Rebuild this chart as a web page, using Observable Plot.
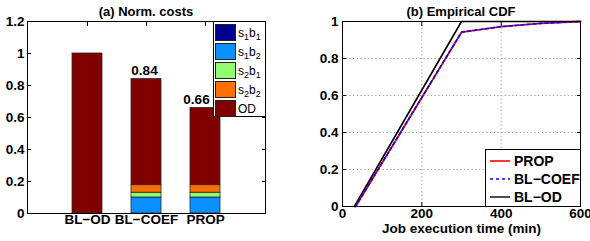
<!DOCTYPE html>
<html><head><meta charset="utf-8">
<script src="https://cdn.jsdelivr.net/npm/d3@7"></script>
<script src="https://cdn.jsdelivr.net/npm/@observablehq/plot@0.6"></script>
<style>
body{margin:0;background:#fff;font-family:"Liberation Sans",Arial,sans-serif;}
#wrap{position:relative;width:590px;height:241px;overflow:hidden;}
#wrap svg.chart{position:absolute;top:0;}
#wrap svg.chart text{font-family:"Liberation Sans",Arial,sans-serif;font-size:13.5px;font-weight:bold;fill:#000;}
.title{position:absolute;top:4px;font-size:13px;font-weight:bold;text-align:center;white-space:nowrap;line-height:16px;}
.leg{position:absolute;background:#fff;border:1px solid #000;box-sizing:border-box;}
.legA .row{display:flex;align-items:center;height:19px;font-size:12px;}
.legA .sw{width:21px;height:17px;box-sizing:border-box;border:1px solid #222;margin:0 2px 0 1px;}
.legA sub{font-size:9px;vertical-align:-3px;line-height:0}
.legB .row{display:flex;align-items:center;height:18px;font-size:14px;font-weight:bold;}
</style></head>
<body><div id="wrap"></div>
<script>
// ---- Panel (a) data ----
const categories = ["BL−OD", "BL−COEF", "PROP"];
const components = ["s1b1", "s1b2", "s2b1", "s2b2", "OD"];
const componentLabels = ["s<sub>1</sub>b<sub>1</sub>", "s<sub>1</sub>b<sub>2</sub>", "s<sub>2</sub>b<sub>1</sub>", "s<sub>2</sub>b<sub>2</sub>", "OD"];
const componentColors = ["#00008f", "#0a90ff", "#90ff70", "#ff7000", "#800000"];
const s1b1 = [0, 0, 0];
const s1b2 = [0, 0.10, 0.10];
const s2b1 = [0, 0.03, 0.03];
const s2b2 = [0, 0.047, 0.047];
const od = [1.0, 0.663, 0.483];
const totalLabels = ["", "0.84", "0.66"];
const yTicksA = [0, 0.2, 0.4, 0.6, 0.8, 1, 1.2];
const titleA = "(a) Norm. costs";

// ---- Panel (b) data ----
const seriesNames = ["PROP", "BL−COEF", "BL−OD"];
const propX = [33, 300, 400, 500, 600];
const propY = [0, 0.942, 0.972, 0.99, 1.0];
const coefX = [33, 300, 400, 500, 600];
const coefY = [0, 0.942, 0.972, 0.99, 1.0];
const odX = [30, 300, 600];
const odY = [0, 1, 1];
const xTicksB = [0, 200, 400, 600];
const yTicksB = [0, 0.2, 0.4, 0.6, 0.8, 1];
const titleB = "(b) Empirical CDF";
const xLabelB = "Job execution time (min)";

const compValues = [s1b1, s1b2, s2b1, s2b2, od];
const stackData = [];
categories.forEach((c, i) => components.forEach((k, j) => stackData.push({cat: c, comp: k, value: compValues[j][i]})));
const totals = categories.map((c, i) => ({cat: c, total: compValues.reduce((s, a) => s + a[i], 0), label: totalLabels[i]}));

const fmt = d => String(d);
const wrap = document.getElementById("wrap");

const chartA = Plot.plot({
  width: 280, height: 241,
  marginLeft: 27, marginRight: 15, marginTop: 21, marginBottom: 28,
  className: "pa",
  x: {type: "band", domain: categories, paddingInner: 0.5, paddingOuter: 0.75, label: null},
  y: {domain: [0, 1.2], label: null},
  color: {domain: components, range: componentColors},
  marks: [
    Plot.barY(stackData, {x: "cat", y: "value", fill: "comp", stroke: "#2a2a2a", strokeWidth: 0.8}),
    Plot.frame({stroke: "#000", strokeWidth: 1}),
    Plot.axisY({ticks: yTicksA, tickSize: 0, tickPadding: 3, tickFormat: fmt, label: null}),
    Plot.axisY({ticks: yTicksA, tickSize: -4, tickFormat: () => "", label: null}),
    Plot.axisY({anchor: "right", ticks: yTicksA, tickSize: -4, tickFormat: () => "", label: null}),
    Plot.axisX({tickSize: 0, tickPadding: 1, label: null}),
    Plot.axisX({anchor: "top", tickSize: -4, tickFormat: () => "", label: null}),
    Plot.text(totals.filter(d => d.label === "0.84"), {x: "cat", y: "total", text: "label", dy: -8, dx: -2}),
    Plot.text(totals.filter(d => d.label === "0.66"), {x: "cat", y: "total", text: "label", dy: -8, dx: -9})
  ]
});
chartA.classList.add("chart");
chartA.style.left = "0px";
wrap.appendChild(chartA);

const lineData = [
  ...propX.map((x, i) => ({s: "PROP", x, y: propY[i]})),
  ...coefX.map((x, i) => ({s: "BL−COEF", x, y: coefY[i]})),
  ...odX.map((x, i) => ({s: "BL−OD", x, y: odY[i]}))
];

const chartB = Plot.plot({
  width: 295, height: 241,
  marginLeft: 47, marginRight: 10, marginTop: 21, marginBottom: 35,
  x: {domain: [0, 600], label: null},
  y: {domain: [0, 1], label: null},
  marks: [
    Plot.gridX({ticks: xTicksB, stroke: "#999", strokeOpacity: 1, strokeDasharray: "1.2,2.5"}),
    Plot.gridY({ticks: yTicksB, stroke: "#999", strokeOpacity: 1, strokeDasharray: "1.2,2.5"}),
    Plot.line(lineData.filter(d => d.s === "BL−OD"), {x: "x", y: "y", stroke: "#000", strokeWidth: 1.6}),
    Plot.line(lineData.filter(d => d.s === "PROP"), {x: "x", y: "y", stroke: "#ff0000", strokeWidth: 1.8}),
    Plot.line(lineData.filter(d => d.s === "BL−COEF"), {x: "x", y: "y", stroke: "#0000ff", strokeWidth: 1.6, strokeDasharray: "3,3"}),
    Plot.frame({stroke: "#000", strokeWidth: 1}),
    Plot.axisY({ticks: yTicksB, tickSize: 0, tickPadding: 4, tickFormat: fmt, label: null}),
    Plot.axisY({ticks: yTicksB, tickSize: -4, tickFormat: () => "", label: null}),
    Plot.axisY({anchor: "right", ticks: yTicksB, tickSize: -4, tickFormat: () => "", label: null}),
    Plot.axisX({ticks: xTicksB, tickSize: 0, tickPadding: 2, tickFormat: fmt, label: null}),
    Plot.axisX({ticks: xTicksB, tickSize: -4, tickFormat: () => "", label: null}),
    Plot.axisX({anchor: "top", ticks: xTicksB, tickSize: -4, tickFormat: () => "", label: null}),
    Plot.text([xLabelB], {frameAnchor: "bottom", dy: 26})
  ]
});
chartB.classList.add("chart");
chartB.style.left = "295px";
wrap.appendChild(chartB);

// Titles
[[titleA, 27, 265], [titleB, 342, 580]].forEach(([t, x0, x1]) => {
  const d = document.createElement("div");
  d.className = "title";
  d.textContent = t;
  Object.assign(d.style, {left: x0 + "px", width: (x1 - x0) + "px"});
  wrap.appendChild(d);
});

// Legend (a)
const legA = document.createElement("div");
legA.className = "leg legA";
Object.assign(legA.style, {left: "213px", top: "21px", width: "53px", height: "96px", paddingTop: "1px"});
legA.innerHTML = components.map((k, i) =>
  `<div class="row"><div class="sw" style="background:${componentColors[i]}"></div><span>${componentLabels[i]}</span></div>`).join("");
wrap.appendChild(legA);

// Legend (b)
const seriesStyles = [
  {color: "#ff0000", dash: "", w: 1.6},
  {color: "#0000ff", dash: "3,3", w: 1.6},
  {color: "#000000", dash: "", w: 1.4}
];
const legB = document.createElement("div");
legB.className = "leg legB";
Object.assign(legB.style, {left: "485px", top: "149px", width: "96px", height: "58px", paddingTop: "2px"});
legB.innerHTML = seriesNames.map((n, i) =>
  `<div class="row"><svg width="26" height="10" style="margin-left:2px"><line x1="2" x2="22" y1="5" y2="5" stroke="${seriesStyles[i].color}" stroke-width="${seriesStyles[i].w}" stroke-dasharray="${seriesStyles[i].dash}"/></svg><span>${n}</span></div>`).join("");
wrap.appendChild(legB);
</script>
</body></html>
